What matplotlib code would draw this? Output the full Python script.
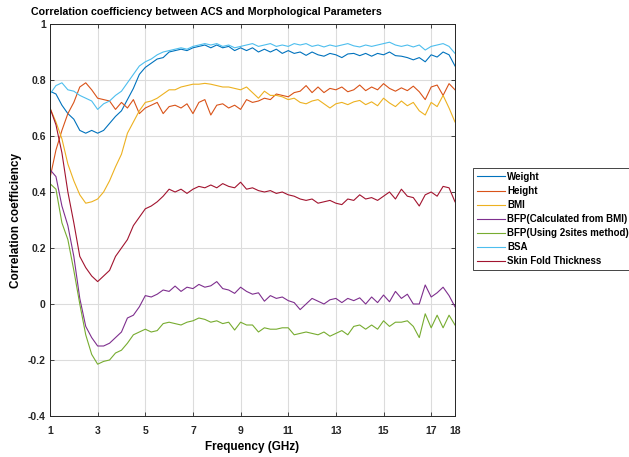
import matplotlib.pyplot as plt

# frequency grid (GHz)
freq = [1.0, 1.25, 1.5, 1.75, 2.0, 2.25, 2.5, 2.75, 3.0, 3.25, 3.5, 3.75,
        4.0, 4.25, 4.5, 4.75, 5.0, 5.25, 5.5, 5.75, 6.0, 6.25, 6.5, 6.75,
        7.0, 7.25, 7.5, 7.75, 8.0, 8.25, 8.5, 8.75, 9.0, 9.25, 9.5, 9.75,
        10.0, 10.25, 10.5, 10.75, 11.0, 11.25, 11.5, 11.75, 12.0, 12.25, 12.5, 12.75,
        13.0, 13.25, 13.5, 13.75, 14.0, 14.25, 14.5, 14.75, 15.0, 15.25, 15.5, 15.75,
        16.0, 16.25, 16.5, 16.75, 17.0, 17.25, 17.5, 17.75, 18.0]

weight = [0.76, 0.75, 0.71, 0.68, 0.66, 0.62, 0.61, 0.62, 0.61, 0.62, 0.645, 0.67,
          0.69, 0.73, 0.77, 0.82, 0.845, 0.86, 0.875, 0.88, 0.90, 0.905, 0.91, 0.905,
          0.915, 0.92, 0.925, 0.915, 0.925, 0.915, 0.92, 0.905, 0.915, 0.905, 0.915, 0.90,
          0.91, 0.90, 0.91, 0.895, 0.905, 0.895, 0.90, 0.888, 0.90, 0.89, 0.885, 0.895,
          0.89, 0.88, 0.893, 0.895, 0.887, 0.895, 0.885, 0.895, 0.89, 0.90, 0.887, 0.885,
          0.88, 0.872, 0.88, 0.865, 0.89, 0.882, 0.90, 0.89, 0.85]

height = [0.45, 0.55, 0.62, 0.68, 0.72, 0.775, 0.79, 0.765, 0.735, 0.73, 0.725, 0.695,
          0.72, 0.70, 0.73, 0.68, 0.70, 0.71, 0.72, 0.68, 0.705, 0.71, 0.70, 0.715,
          0.68, 0.72, 0.73, 0.675, 0.71, 0.715, 0.70, 0.71, 0.695, 0.73, 0.72, 0.725,
          0.735, 0.73, 0.75, 0.745, 0.74, 0.755, 0.76, 0.78, 0.755, 0.775, 0.755, 0.77,
          0.765, 0.775, 0.758, 0.765, 0.782, 0.762, 0.775, 0.765, 0.787, 0.77, 0.76, 0.772,
          0.762, 0.778, 0.758, 0.73, 0.775, 0.782, 0.745, 0.787, 0.765]

bmi = [0.70, 0.65, 0.59, 0.50, 0.44, 0.39, 0.36, 0.365, 0.375, 0.40, 0.44, 0.49,
       0.535, 0.61, 0.65, 0.69, 0.72, 0.725, 0.735, 0.75, 0.765, 0.765, 0.775, 0.78,
       0.785, 0.785, 0.788, 0.785, 0.78, 0.775, 0.775, 0.77, 0.765, 0.775, 0.755, 0.735,
       0.76, 0.745, 0.745, 0.74, 0.73, 0.735, 0.72, 0.715, 0.725, 0.73, 0.715, 0.70,
       0.715, 0.72, 0.712, 0.722, 0.727, 0.712, 0.722, 0.708, 0.735, 0.718, 0.705, 0.725,
       0.708, 0.72, 0.69, 0.675, 0.72, 0.705, 0.745, 0.70, 0.65]

bfp_bmi = [0.48, 0.455, 0.35, 0.28, 0.17, 0.02, -0.08, -0.12, -0.15, -0.15, -0.14, -0.12,
           -0.10, -0.05, -0.04, -0.01, 0.03, 0.025, 0.035, 0.05, 0.045, 0.064, 0.045, 0.06,
           0.055, 0.07, 0.06, 0.065, 0.08, 0.055, 0.05, 0.038, 0.06, 0.045, 0.035, 0.04,
           0.01, 0.03, 0.02, 0.025, 0.012, 0.005, -0.02, 0.0, 0.02, 0.01, 0.0, 0.015,
           0.02, 0.005, 0.02, 0.012, 0.022, 0.0, 0.025, 0.005, 0.032, 0.008, 0.045, 0.02,
           0.035, 0.0, 0.0, 0.068, 0.025, 0.04, 0.06, 0.03, -0.01]

bfp_2sites = [0.43, 0.41, 0.29, 0.23, 0.12, 0.0, -0.11, -0.18, -0.215, -0.205, -0.20, -0.175,
              -0.165, -0.14, -0.11, -0.10, -0.09, -0.10, -0.095, -0.07, -0.065, -0.07, -0.075, -0.065,
              -0.06, -0.05, -0.055, -0.065, -0.06, -0.07, -0.065, -0.093, -0.065, -0.075, -0.075, -0.10,
              -0.085, -0.09, -0.09, -0.085, -0.085, -0.11, -0.105, -0.10, -0.105, -0.11, -0.10, -0.115,
              -0.105, -0.095, -0.11, -0.08, -0.075, -0.09, -0.075, -0.09, -0.06, -0.08, -0.065, -0.065,
              -0.06, -0.08, -0.12, -0.035, -0.085, -0.04, -0.085, -0.04, -0.075]

bsa = [0.75, 0.78, 0.79, 0.765, 0.76, 0.745, 0.735, 0.725, 0.695, 0.715, 0.725, 0.745,
       0.76, 0.79, 0.82, 0.85, 0.865, 0.875, 0.89, 0.90, 0.905, 0.91, 0.915, 0.91,
       0.92, 0.925, 0.93, 0.925, 0.93, 0.92, 0.925, 0.915, 0.92, 0.925, 0.93, 0.92,
       0.925, 0.93, 0.92, 0.925, 0.92, 0.93, 0.925, 0.93, 0.92, 0.925, 0.918, 0.925,
       0.92, 0.925, 0.93, 0.922, 0.918, 0.925, 0.92, 0.925, 0.93, 0.935, 0.925, 0.92,
       0.925, 0.918, 0.925, 0.907, 0.92, 0.925, 0.93, 0.92, 0.895]

skin_fold = [0.70, 0.64, 0.54, 0.40, 0.29, 0.17, 0.13, 0.10, 0.08, 0.10, 0.12, 0.17,
             0.20, 0.23, 0.28, 0.31, 0.34, 0.35, 0.365, 0.385, 0.41, 0.40, 0.41, 0.395,
             0.41, 0.42, 0.415, 0.425, 0.415, 0.43, 0.42, 0.415, 0.435, 0.41, 0.415, 0.405,
             0.40, 0.405, 0.395, 0.40, 0.39, 0.385, 0.375, 0.37, 0.375, 0.36, 0.365, 0.37,
             0.36, 0.355, 0.375, 0.37, 0.39, 0.375, 0.38, 0.37, 0.385, 0.40, 0.375, 0.41,
             0.385, 0.38, 0.35, 0.39, 0.40, 0.385, 0.42, 0.415, 0.365]

labels = ['Weight', 'Height', 'BMI', 'BFP(Calculated from BMI)',
          'BFP(Using 2sites method)', 'BSA', 'Skin Fold Thickness']
colors = ['#0072BD', '#D95319', '#EDB120', '#7E2F8E', '#77AC30', '#4DBEEE', '#A2142F']
series = [weight, height, bmi, bfp_bmi, bfp_2sites, bsa, skin_fold]

xticks = [1, 3, 5, 7, 9, 11, 13, 15, 17, 18]
yticks = [-0.4, -0.2, 0, 0.2, 0.4, 0.6, 0.8, 1]
ytick_labels = ['-0.4', '-0.2', '0', '0.2', '0.4', '0.6', '0.8', '1']

plt.rcParams['font.family'] = ['Liberation Sans', 'DejaVu Sans']
plt.rcParams['font.weight'] = 'bold'

fig = plt.figure(figsize=(6.29, 4.57), dpi=100)
ax = fig.add_axes([50 / 629, 41 / 457, 405 / 629, 392 / 457])

for ys, c, lab in zip(series, colors, labels):
    ax.plot(freq, ys, color=c, lw=0.8, label=lab)

ax.set_xlim(1, 18)
ax.set_ylim(-0.4, 1)
ax.set_xticks(xticks)
ax.set_xticklabels([str(t) for t in xticks])
ax.set_yticks(yticks)
ax.set_yticklabels(ytick_labels)
ax.grid(True, color='#dcdcdc', lw=0.8)
ax.set_axisbelow(True)
ax.tick_params(direction='in', top=True, right=True, length=3, width=0.6,
               labelsize=7.5, colors='#262626')
ax.tick_params(axis='x', pad=7)
ax.tick_params(axis='y', pad=3)
for lbl in ax.get_xticklabels() + ax.get_yticklabels():
    lbl.set_fontweight('bold')
for sp in ax.spines.values():
    sp.set_color('#262626')
    sp.set_linewidth(0.7)

ax.set_xlabel('Frequency (GHz)', fontsize=8.5, fontweight='bold', labelpad=4)
ax.set_ylabel('Correlation coefficiency', fontsize=8.5, fontweight='bold', labelpad=4)
fig.text(206 / 629, 1 - 12 / 457, 'Correlation coefficiency between ACS and Morphological Parameters',
         ha='center', va='center', fontsize=7.7, fontweight='bold')

leg = ax.legend(loc='upper left', bbox_to_anchor=(473 / 629, 1 - 168 / 457),
                bbox_transform=fig.transFigure, borderaxespad=0, fontsize=7,
                fancybox=False, framealpha=1, edgecolor='#262626', handlelength=2.9,
                handletextpad=0.2, labelspacing=0.42, borderpad=0.4)
leg.get_frame().set_linewidth(0.6)
for t in leg.get_texts():
    t.set_fontweight('bold')

fig.savefig('out.png', dpi=100)
